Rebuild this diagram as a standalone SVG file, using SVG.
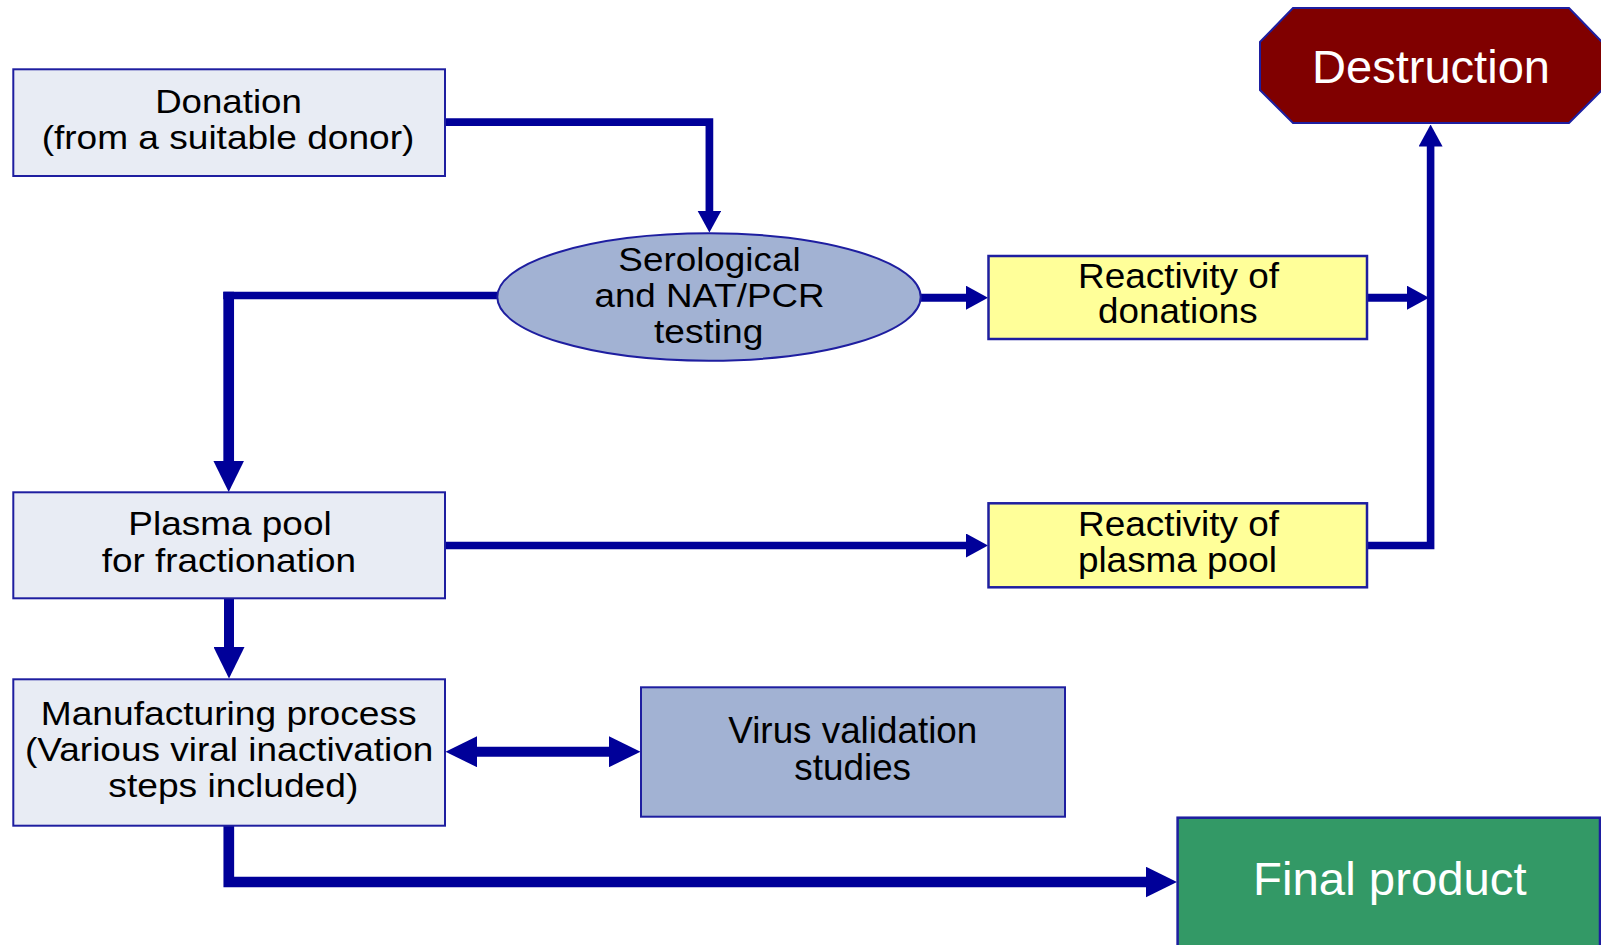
<svg xmlns="http://www.w3.org/2000/svg" width="1601" height="945" viewBox="0 0 1601 945">
<style>
.box{fill:#E8ECF4;stroke:#1E1EA0;stroke-width:2}
.blue{fill:#A2B2D3;stroke:#1E1EA0;stroke-width:2}
.yel{fill:#FFFF99;stroke:#1E1EA0;stroke-width:2.5}
.conn{fill:none;stroke:#000099;stroke-linejoin:miter}
.t{font-family:"Liberation Sans",Arial,Helvetica,sans-serif;fill:#000;text-anchor:middle}
.w{fill:#fff}
</style>
<defs>
<marker id="ahS" markerUnits="userSpaceOnUse" viewBox="0 0 22 24" markerWidth="22" markerHeight="24" refX="0.5" refY="12" orient="auto"><path d="M0,0 L22,12 L0,24 Z" fill="#000099"/></marker>
<marker id="ahL" markerUnits="userSpaceOnUse" viewBox="0 0 31.5 31" markerWidth="31.5" markerHeight="31" refX="0.5" refY="15.5" orient="auto-start-reverse"><path d="M0,0 L31.5,15.5 L0,31 Z" fill="#000099"/></marker>
</defs>
<rect width="1601" height="945" fill="#fff"/>

<g id="connectors">
<path class="conn" stroke-width="7.7" d="M445,122.2 H709.4 V211" marker-end="url(#ahS)"/>
<path class="conn" stroke-width="7.7" d="M497.5,295.5 H223.3"/>
<path class="conn" stroke-width="10.7" d="M228.7,291.7 V461" marker-end="url(#ahL)"/>
<path class="conn" stroke-width="8" d="M920.7,297.7 H966.5" marker-end="url(#ahS)"/>
<path class="conn" stroke-width="8" d="M1367,297.7 H1407.5" marker-end="url(#ahS)"/>
<path class="conn" stroke-width="7.6" d="M445,545.5 H966.5" marker-end="url(#ahS)"/>
<path class="conn" stroke-width="7.6" d="M1367,545.5 H1430.6 V146" marker-end="url(#ahS)"/>
<path class="conn" stroke-width="10" d="M229,598.3 V647.5" marker-end="url(#ahL)"/>
<path class="conn" stroke-width="10" d="M476.5,751.7 H609.5" marker-start="url(#ahL)" marker-end="url(#ahL)"/>
<path class="conn" stroke-width="10.7" d="M228.8,825.7 V882 H1146" marker-end="url(#ahL)"/>
</g>

<g id="donation">
<rect class="box" x="13.3" y="69.3" width="431.7" height="106.7"/>
<text class="t" font-size="33" x="228.5" y="113" textLength="146.7" lengthAdjust="spacingAndGlyphs">Donation</text>
<text class="t" font-size="33" x="228" y="149.2" textLength="372.7" lengthAdjust="spacingAndGlyphs">(from a suitable donor)</text>
</g>

<g id="serological">
<ellipse class="blue" cx="709" cy="297" rx="211.7" ry="63.7"/>
<text class="t" font-size="34" x="709.5" y="270.7" textLength="182.3" lengthAdjust="spacingAndGlyphs">Serological</text>
<text class="t" font-size="34" x="709.5" y="306.7" textLength="230" lengthAdjust="spacingAndGlyphs">and NAT/PCR</text>
<text class="t" font-size="34" x="708.7" y="342.5" textLength="109.3" lengthAdjust="spacingAndGlyphs">testing</text>
</g>

<g id="reactivity-donations">
<rect class="yel" x="988.5" y="256" width="378.5" height="83"/>
<text class="t" font-size="35.5" x="1178.5" y="288.3" textLength="201" lengthAdjust="spacingAndGlyphs">Reactivity of</text>
<text class="t" font-size="35.5" x="1177.8" y="323.3" textLength="159.6" lengthAdjust="spacingAndGlyphs">donations</text>
</g>

<g id="destruction">
<polygon points="1293,8 1569,8 1602,42 1602,90 1569,123 1293,123 1260,90 1260,42" fill="#800000" stroke="#1E1EA0" stroke-width="2"/>
<text class="t w" font-size="46" x="1431" y="83.3" textLength="238" lengthAdjust="spacingAndGlyphs">Destruction</text>
</g>

<g id="plasma-pool">
<rect class="box" x="13.3" y="492.3" width="431.7" height="106"/>
<text class="t" font-size="33" x="230" y="535" textLength="203.3" lengthAdjust="spacingAndGlyphs">Plasma pool</text>
<text class="t" font-size="33" x="228.8" y="571.7" textLength="254.3" lengthAdjust="spacingAndGlyphs">for fractionation</text>
</g>

<g id="reactivity-plasma">
<rect class="yel" x="988.5" y="503.3" width="378.5" height="84"/>
<text class="t" font-size="35.5" x="1178.5" y="535.7" textLength="201" lengthAdjust="spacingAndGlyphs">Reactivity of</text>
<text class="t" font-size="35.5" x="1177.4" y="571.7" textLength="199" lengthAdjust="spacingAndGlyphs">plasma pool</text>
</g>

<g id="manufacturing">
<rect class="box" x="13.3" y="679.3" width="431.7" height="146.4"/>
<text class="t" font-size="33" x="228.7" y="725" textLength="376" lengthAdjust="spacingAndGlyphs">Manufacturing process</text>
<text class="t" font-size="33" x="229.2" y="761" textLength="408.3" lengthAdjust="spacingAndGlyphs">(Various viral inactivation</text>
<text class="t" font-size="33" x="233.3" y="796.7" textLength="250" lengthAdjust="spacingAndGlyphs">steps included)</text>
</g>

<g id="virus-validation">
<rect class="blue" x="641" y="687.3" width="424" height="129.4"/>
<text class="t" font-size="36.5" x="852.8" y="743.3" textLength="249" lengthAdjust="spacingAndGlyphs">Virus validation</text>
<text class="t" font-size="36.5" x="852.7" y="780" textLength="116.7" lengthAdjust="spacingAndGlyphs">studies</text>
</g>

<g id="final-product">
<rect x="1177.6" y="817.7" width="422.4" height="140" fill="#339966" stroke="#1E1EA0" stroke-width="2.5"/>
<text class="t w" font-size="46.5" x="1389.9" y="895" textLength="273.6" lengthAdjust="spacingAndGlyphs">Final product</text>
</g>
</svg>
